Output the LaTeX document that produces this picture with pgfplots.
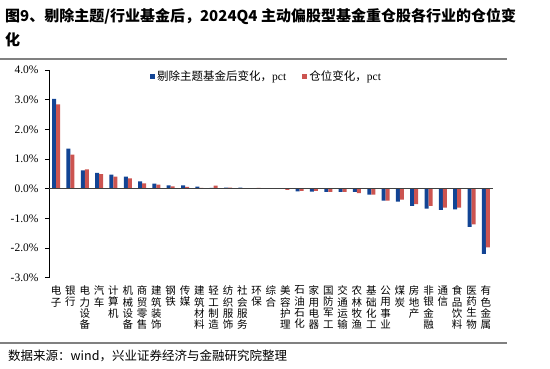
\documentclass[border=0pt]{standalone}
\usepackage{pgfplots}
\pgfplotsset{compat=1.18}
\usepackage{fontspec}
\setmainfont{Liberation Serif}
\newfontfamily\cjk{Noto Sans CJK SC}
\definecolor{cblue}{RGB}{18,68,148}
\definecolor{cred}{RGB}{204,84,80}
\definecolor{rulegray}{RGB}{128,128,128}
\begin{document}
\begin{tikzpicture}
\useasboundingbox (0,0) rectangle (550pt,-368pt);
\node[anchor=base west, inner sep=0pt, font=\cjk\bfseries\fontsize{15}{18}\selectfont] at (5pt,-21pt) {图9、剔除主题/行业基金后，2024Q4 主动偏股型基金重仓股各行业的仓位变};
\node[anchor=base west, inner sep=0pt, font=\cjk\bfseries\fontsize{15}{18}\selectfont] at (5pt,-45pt) {化};
\draw[rulegray, line width=2pt] (0pt,-59pt) -- (507pt,-59pt);
\draw[rulegray, line width=2pt] (0pt,-343pt) -- (507pt,-343pt);
\node[anchor=base west, inner sep=0pt, font=\cjk\fontsize{12.5}{14}\selectfont] at (8pt,-360pt) {数据来源：wind，兴业证券经济与金融研究院整理};
\begin{axis}[
  at={(49pt,-277.7pt)}, anchor=south west,
  scale only axis, width=444pt, height=207.7pt,
  xmin=-0.5, xmax=30.5, ymin=-3, ymax=4,
  axis y line*=left, axis x line*=bottom,
  x axis line style={draw=none},
  y axis line style={black, line width=0.7pt},
  xtick={0,...,30}, xtick style={draw=none},
  ytick={-3,-2,-1,0,1,2,3,4},
  yticklabels={-3.0\%,-2.0\%,-1.0\%,0.0\%,1.0\%,2.0\%,3.0\%,4.0\%},
  ytick style={black, line width=0.7pt},
  tick align=outside, major tick length=4pt,
  yticklabel style={font=\fontsize{11.5}{13}\selectfont, xshift=-3pt},
  xticklabels={{电\\子},{银\\行},{电\\力\\设\\备},{汽\\车},{计\\算\\机},{机\\械\\设\\备},{商\\贸\\零\\售},{建\\筑\\装\\饰},{钢\\铁},{传\\媒},{建\\筑\\材\\料},{轻\\工\\制\\造},{纺\\织\\服\\饰},{社\\会\\服\\务},{环\\保},{综\\合},{美\\容\\护\\理},{石\\油\\石\\化},{家\\用\\电\\器},{国\\防\\军\\工},{交\\通\\运\\输},{农\\林\\牧\\渔},{基\\础\\化\\工},{公\\用\\事\\业},{煤\\炭},{房\\地\\产},{非\\银\\金\\融},{通\\信},{食\\品\\饮\\料},{医\\药\\生\\物},{有\\色\\金\\属}},
  xticklabel style={align=center, anchor=north, inner sep=0pt, yshift=-4pt, font=\cjk\fontsize{10.5}{11.3}\selectfont},
  ybar=0pt, bar width=4pt,
  legend columns=2,
  legend style={at={(rel axis cs:0.227,1.005)}, anchor=north west, draw=none, fill=none, inner sep=0pt,
    font=\fontsize{11.5}{13}\selectfont, /tikz/every even column/.append style={column sep=14pt}},
  legend image code/.code={\fill[#1] (0pt,-2.6pt) rectangle (5.2pt,2.6pt);},
]
\addplot[fill=cblue, draw=none] coordinates {
(0,3.03) (1,1.35) (2,0.62) (3,0.53) (4,0.47) (5,0.41) (6,0.25) (7,0.17) (8,0.11) (9,0.11)
(10,0.07) (11,0.03) (12,0.04) (13,0.04) (14,0.00) (15,0.00) (16,-0.01) (17,-0.09) (18,-0.10) (19,-0.11)
(20,-0.11) (21,-0.11) (22,-0.20) (23,-0.40) (24,-0.44) (25,-0.58) (26,-0.67) (27,-0.71) (28,-0.70) (29,-1.29) (30,-2.20)};
\addplot[fill=cred, draw=none] coordinates {
(0,2.84) (1,1.15) (2,0.65) (3,0.49) (4,0.41) (5,0.35) (6,0.18) (7,0.14) (8,0.08) (9,0.06)
(10,0.03) (11,0.10) (12,0.04) (13,0.01) (14,0.03) (15,0.00) (16,-0.04) (17,-0.07) (18,-0.07) (19,-0.11)
(20,-0.11) (21,-0.15) (22,-0.20) (23,-0.40) (24,-0.37) (25,-0.52) (26,-0.58) (27,-0.64) (28,-0.64) (29,-1.20) (30,-1.98)};
\legend{{\cjk 剔除主题基金后变化，}pct, {\cjk 仓位变化，}pct}
\draw[black!75, line width=0.8pt] (axis cs:-0.5,0) -- (axis cs:30.5,0);
\end{axis}
\end{tikzpicture}
\end{document}
